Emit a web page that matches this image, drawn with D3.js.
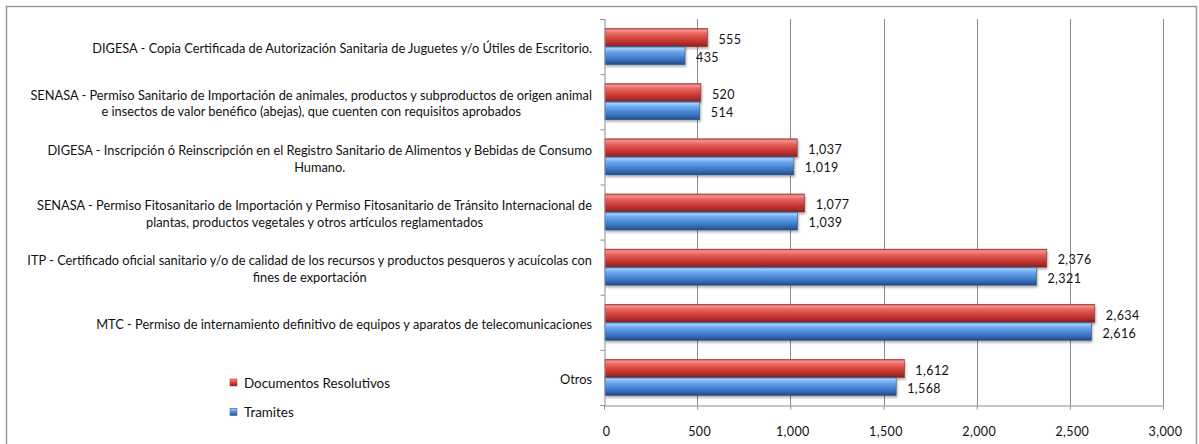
<!DOCTYPE html>
<html>
<head>
<meta charset="utf-8">
<script src="https://cdn.jsdelivr.net/npm/d3@7/dist/d3.min.js"></script>
<style>
  html, body { margin: 0; padding: 0; background: #fff; }
  svg { display: block; font-family: Lato, "Open Sans", sans-serif; }
</style>
</head>
<body>
<script>
// Categories, top to bottom ("\n" marks a line break in the label)
const categories = [
    "DIGESA - Copia Certificada de Autorización Sanitaria de Juguetes y/o Útiles de Escritorio.",
    "SENASA - Permiso Sanitario de Importación de animales, productos y subproductos de origen animal\ne insectos de valor benéfico (abejas), que cuenten con requisitos aprobados",
    "DIGESA - Inscripción ó Reinscripción en el Registro Sanitario de Alimentos y Bebidas de Consumo\nHumano.",
    "SENASA - Permiso Fitosanitario de Importación y Permiso Fitosanitario de Tránsito Internacional de\nplantas, productos vegetales y otros artículos reglamentados",
    "ITP - Certificado oficial sanitario y/o de calidad de los recursos y productos pesqueros y acuícolas con\nfines de exportación",
    "MTC - Permiso de internamiento definitivo de equipos y aparatos de telecomunicaciones",
    "Otros"
];
const seriesNames = ["Documentos Resolutivos", "Tramites"];
const documentos = [555, 520, 1037, 1077, 2376, 2634, 1612];
const tramites = [435, 514, 1019, 1039, 2321, 2616, 1568];
const xTicks = [0, 500, 1000, 1500, 2000, 2500, 3000];

const width = 1199, height = 444;
const plot = { left: 604, right: 1163, top: 19, bottom: 405 };

const svg = d3.select("body").append("svg")
    .attr("width", width)
    .attr("height", height);

// gradients for the 3D-looking bars
const defs = svg.append("defs");
function barGradient(id, stops) {
    const g = defs.append("linearGradient").attr("id", id)
        .attr("x1", 0).attr("y1", 0).attr("x2", 0).attr("y2", 1);
    stops.forEach(s => g.append("stop").attr("offset", s[0]).attr("stop-color", s[1]));
}
barGradient("gradRed", [[0, "#b8403c"], [0.1, "#f49490"], [0.3, "#e5625d"], [0.6, "#cf3c37"], [0.85, "#a92c28"], [1, "#7f201d"]]);
barGradient("gradBlue", [[0, "#4278ba"], [0.1, "#a3cdfa"], [0.3, "#6aa6ec"], [0.6, "#4482d2"], [0.85, "#3162a8"], [1, "#244575"]]);
const shadow = defs.append("filter").attr("id", "shadow")
    .attr("x", "-5%").attr("y", "-30%").attr("width", "110%").attr("height", "170%");
shadow.append("feDropShadow")
    .attr("dx", 1).attr("dy", 2).attr("stdDeviation", 1.3)
    .attr("flood-color", "#000").attr("flood-opacity", 0.3);

const colors = { "Documentos Resolutivos": "url(#gradRed)", "Tramites": "url(#gradBlue)" };
const strokes = { "Documentos Resolutivos": "#9e2b28", "Tramites": "#2f5b93" };

// outer chart border
svg.append("rect")
    .attr("x", 6.5).attr("y", 6.5)
    .attr("width", 1190).attr("height", 440)
    .attr("fill", "none")
    .attr("stroke", "#9a9a9a")
    .attr("stroke-width", 1.5);

// scales
const x = d3.scaleLinear().domain([0, 3000]).range([plot.left, plot.right]);
const y = d3.scaleBand().domain(categories).range([plot.top, plot.bottom]);
const ySub = d3.scaleBand().domain(seriesNames).range([0, y.bandwidth()]).paddingOuter(0.53);
const yIdx = d3.scaleLinear().domain([0, categories.length]).range([plot.top, plot.bottom]);

// gridlines
svg.append("g")
    .selectAll("line")
    .data(xTicks.filter(d => d > 0))
    .join("line")
    .attr("x1", d => Math.round(x(d)) + 0.5)
    .attr("x2", d => Math.round(x(d)) + 0.5)
    .attr("y1", plot.top)
    .attr("y2", plot.bottom)
    .attr("stroke", "#8c8c8c");

// bars
const rows = categories.map((c, i) => ({ cat: c, values: [documentos[i], tramites[i]] }));
const group = svg.append("g")
    .selectAll("g")
    .data(rows)
    .join("g")
    .attr("transform", d => `translate(0,${y(d.cat)})`);

group.selectAll("rect")
    .data(d => seriesNames.map((s, j) => ({ series: s, value: d.values[j] })))
    .join("rect")
    .attr("x", x(0) + 1)
    .attr("y", d => ySub(d.series))
    .attr("width", d => x(d.value) - x(0) - 1)
    .attr("height", ySub.bandwidth())
    .attr("fill", d => colors[d.series])
    .attr("stroke", d => strokes[d.series])
    .attr("stroke-width", 0.6)
    .attr("filter", "url(#shadow)");

group.selectAll("text")
    .data(d => seriesNames.map((s, j) => ({ series: s, value: d.values[j] })))
    .join("text")
    .attr("x", d => x(d.value) + 11)
    .attr("y", d => ySub(d.series) + ySub.bandwidth() / 2 + 2)
    .attr("dy", "0.35em")
    .attr("font-size", 12.5)
    .attr("letter-spacing", 0.4)
    .attr("fill", "#111")
    .text(d => d3.format(",")(d.value));

// y axis with ticks on category boundaries
const yAxis = svg.append("g")
    .attr("transform", `translate(${plot.left + 0.5},0)`)
    .call(d3.axisLeft(yIdx).tickValues(d3.range(categories.length + 1)).tickSize(4).tickFormat(""));
yAxis.select(".domain").attr("stroke", "#8c8c8c");
yAxis.selectAll(".tick line").attr("stroke", "#8c8c8c");

// x axis
const xAxis = svg.append("g")
    .attr("transform", `translate(0,${plot.bottom + 0.5})`)
    .call(d3.axisBottom(x).tickValues(xTicks).tickSize(4).tickSizeOuter(0).tickFormat(d3.format(",")));
xAxis.select(".domain").attr("stroke", "#8c8c8c");
xAxis.selectAll(".tick line").attr("stroke", "#8c8c8c");
xAxis.selectAll(".tick text")
    .attr("y", 26)
    .attr("dy", "0.35em")
    .attr("dx", 2)
    .attr("font-size", 12.5)
    .attr("letter-spacing", 0.4)
    .attr("font-family", "Lato, sans-serif")
    .attr("fill", "#111");

// category labels (lines centred within a right-aligned block)
const labelRight = plot.left - 12;
const lineH = 16.5;
categories.forEach(c => {
    const lines = c.split("\n");
    const g = svg.append("g");
    const cy = y(c) + y.bandwidth() / 2 + 2;
    const texts = lines.map((ln, k) => g.append("text")
        .attr("y", cy + (k - (lines.length - 1) / 2) * lineH)
        .attr("dy", "0.35em")
        .attr("font-size", 12.8)
        .attr("fill", "#111")
        .attr("text-anchor", "middle")
        .text(ln));
    const maxW = d3.max(texts, t => t.node().getComputedTextLength());
    texts.forEach(t => t.attr("x", labelRight - maxW / 2));
});

// legend
const legend = svg.append("g")
    .selectAll("g")
    .data(seriesNames)
    .join("g")
    .attr("transform", (d, i) => `translate(230,${383 + i * 29.5})`);
legend.append("rect")
    .attr("x", 0).attr("y", -4)
    .attr("width", 7).attr("height", 7)
    .attr("fill", d => colors[d])
    .attr("stroke", d => strokes[d])
    .attr("stroke-width", 0.5);
legend.append("text")
    .attr("x", 14)
    .attr("y", 0)
    .attr("dy", "0.35em")
    .attr("font-size", 13.4)
    .attr("fill", "#111")
    .text(d => d);
</script>
</body>
</html>
